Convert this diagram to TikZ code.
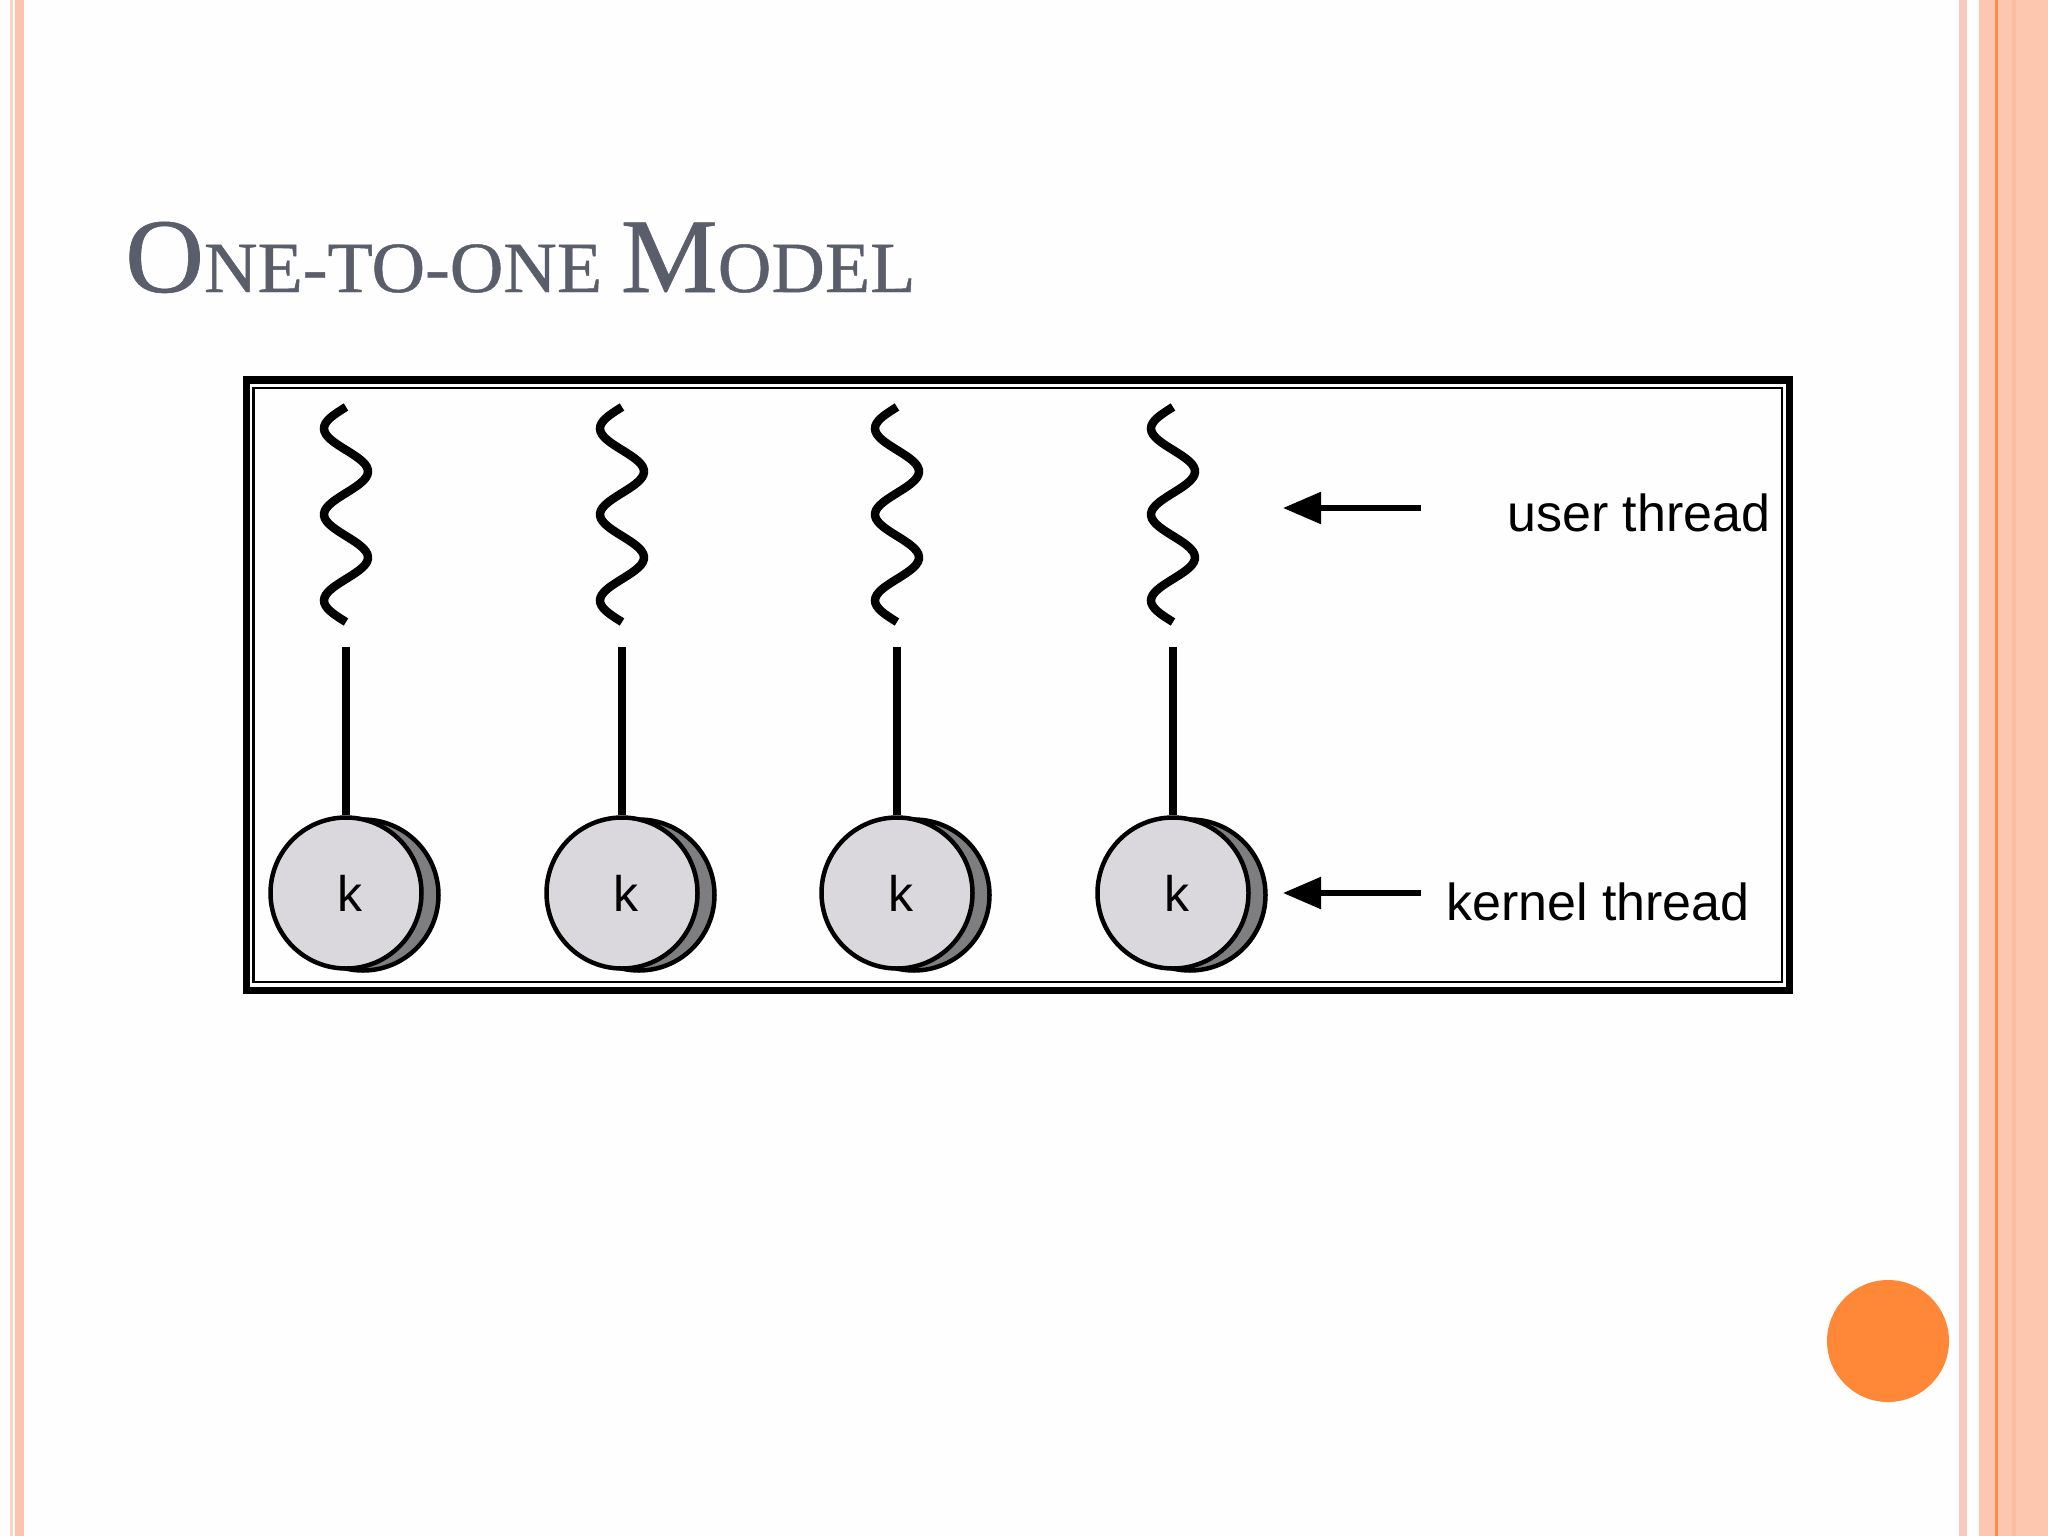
\documentclass[tikz,border=0pt]{standalone}
\usepackage{fontspec}
\usetikzlibrary{arrows.meta}
\newfontfamily\labfont{Liberation Sans}
\newfontfamily\titlefont{Liberation Serif}[FakeBold=0.6]
\definecolor{bgc}{HTML}{FEFEFE}
\definecolor{stripeA}{HTML}{FCD2C3}
\definecolor{stripeB}{HTML}{FBC4AC}
\definecolor{pinkS}{HTML}{FAC9BD}
\definecolor{peach}{HTML}{FDC7AF}
\definecolor{peachD}{HTML}{FBBEA3}
\definecolor{orangeL}{HTML}{FA8B4B}
\definecolor{dotc}{HTML}{FE8838}
\definecolor{titlec}{HTML}{5A5E6B}
\definecolor{coinf}{HTML}{DAD8DC}
\definecolor{coinb}{HTML}{7E7D80}
\tikzset{
  squiggle/.style={line width=8.5pt, black},
  link/.style={line width=8pt, black},
  coin/.style={circle, draw=black, line width=4.5pt, fill=coinf, minimum size=151pt, inner sep=0pt,
    font=\labfont\fontsize{50}{50}\selectfont},
  coinback/.style={draw=black, line width=4.5pt, fill=coinb},
  pointer/.style={line width=5.5pt, -{Triangle[length=38pt,width=31pt]}},
  lab/.style={font=\labfont\fontsize{52}{52}\selectfont, inner sep=0pt, anchor=base west}
}
\begin{document}
\begin{tikzpicture}[x=1pt,y=-1pt]
\useasboundingbox (0,0) rectangle (2048,1536);
\fill[bgc] (0,0) rectangle (2048,1536);
% left stripes
\fill[stripeA] (10,0) rectangle (13,1536);
\fill[stripeB] (15,0) rectangle (24,1536);
% right stripes
\fill[pinkS] (1959,0) rectangle (1967,1536);
\fill[peach] (1979,0) rectangle (2048,1536);
\fill[orangeL] (1995,0) rectangle (1998,1536);
\fill[peachD] (2012,0) rectangle (2016,1536);
% title
\node[anchor=base west, inner sep=0pt, text=titlec] (title) at (125,292)
  {\scalebox{1.03}[1]{\titlefont\fontsize{106}{110}\selectfont O\fontsize{72}{74}\selectfont NE-TO-ONE \fontsize{106}{110}\selectfont M\fontsize{72}{74}\selectfont ODEL}};
% frame
\draw[line width=7.5pt] (246.5,380) rectangle (1789.5,990.5);
\draw[line width=2.5pt] (253.5,388) rectangle (1782,982);
% threads
\foreach \i/\cx in {1/346, 2/622, 3/897, 4/1173} {
  \draw[squiggle] plot[smooth, domain=0:215, samples=80] ({\cx-22*sin(4.186*\x)}, {407+\x});
  \coordinate (u\i) at (\cx,647);
  \fill[coinback] (\cx+17,895) circle (75.5);
  \node[coin] (k\i) at (\cx,893) {\hspace*{8pt}\raisebox{-3pt}{k}};
  \draw[link] (u\i) -- (k\i.north);
}
% labels and arrows
\coordinate (ua0) at (1421,508);
\coordinate (ua1) at (1283,508);
\coordinate (ka0) at (1421,893);
\coordinate (ka1) at (1283,893);
\draw[pointer] (ua0) -- (ua1);
\draw[pointer] (ka0) -- (ka1);
\node[lab] (ulab) at (1507,531) {user thread};
\node[lab] (klab) at (1446,920) {kernel thread};
% orange dot
\fill[dotc] (1888,1341) circle (61);
\end{tikzpicture}
\end{document}
